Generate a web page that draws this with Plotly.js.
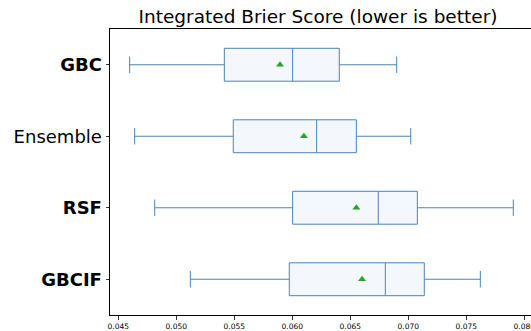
<!DOCTYPE html>
<html>
<head>
<meta charset="utf-8">
<script src="https://cdn.plot.ly/plotly-3.0.1.min.js"></script>
<style>html,body{margin:0;padding:0;background:#fff;overflow:hidden;}#chart{width:531px;height:331px;overflow:hidden;}</style>
</head>
<body>
<div id="chart"></div>
<script>
const models = ["GBC", "Ensemble", "RSF", "GBCIF"];
const tickLabels = ["<b>GBC</b>", "Ensemble", "<b>RSF</b>", "<b>GBCIF</b>"];
const lowerWhisker = [0.04598, 0.04641, 0.04814, 0.05121];
const q1Values = [0.05414, 0.05491, 0.06003, 0.05974];
const medianValues = [0.06003, 0.06210, 0.06741, 0.06802];
const q3Values = [0.06405, 0.06552, 0.07078, 0.07138];
const upperWhisker = [0.06900, 0.07021, 0.07905, 0.07621];
const meanValues = [0.05894, 0.06100, 0.06552, 0.06601];

const boxColor = '#4a84ba';
const traces = [
  {
    type: 'box',
    orientation: 'h',
    y: models,
    q1: q1Values,
    median: medianValues,
    q3: q3Values,
    lowerfence: lowerWhisker,
    upperfence: upperWhisker,
    boxpoints: false,
    width: 0.46,
    whiskerwidth: 0.5,
    fillcolor: '#f4f7fc',
    line: {color: boxColor, width: 1},
    hoverinfo: 'skip',
    showlegend: false
  },
  {
    type: 'scatter',
    mode: 'markers',
    x: meanValues,
    y: models,
    marker: {symbol: 'triangle-up', size: 7, color: '#2ca02c', line: {width: 0}},
    hoverinfo: 'skip',
    showlegend: false
  }
];

const layout = {
  width: 531,
  height: 331,
  margin: {l: 110, r: 0, t: 29, b: 16, pad: 0},
  paper_bgcolor: '#ffffff',
  plot_bgcolor: '#ffffff',
  font: {family: 'DejaVu Sans', color: '#000000'},
  title: {
    text: 'Integrated Brier Score (lower is better)',
    font: {family: 'DejaVu Sans', size: 18.5, color: '#000000'},
    xref: 'container', x: 318 / 531, xanchor: 'center',
    yref: 'container', y: 1 - 17 / 331, yanchor: 'middle'
  },
  xaxis: {
    range: [0.044284, 0.080577],
    tick0: 0.045,
    dtick: 0.005,
    tickformat: '.3f',
    ticklabeloverflow: 'allow',
    tickfont: {family: 'DejaVu Sans', size: 7.5, color: '#000000'},
    ticks: 'outside',
    ticklen: 3.5,
    tickwidth: 0.8,
    tickcolor: '#000000',
    showline: true,
    mirror: true,
    linecolor: '#000000',
    linewidth: 1,
    showgrid: false,
    zeroline: false
  },
  yaxis: {
    type: 'category',
    categoryorder: 'array',
    categoryarray: models,
    tickvals: models,
    ticktext: tickLabels,
    range: [3.5, -0.5],
    tickfont: {family: 'DejaVu Sans', size: 18, color: '#000000'},
    ticks: 'outside',
    ticklen: 3.5,
    tickwidth: 0.8,
    tickcolor: '#000000',
    showline: true,
    linecolor: '#000000',
    linewidth: 1,
    showgrid: false,
    zeroline: false
  }
};

Plotly.newPlot('chart', traces, layout, {displayModeBar: false, staticPlot: true});
</script>
</body>
</html>
